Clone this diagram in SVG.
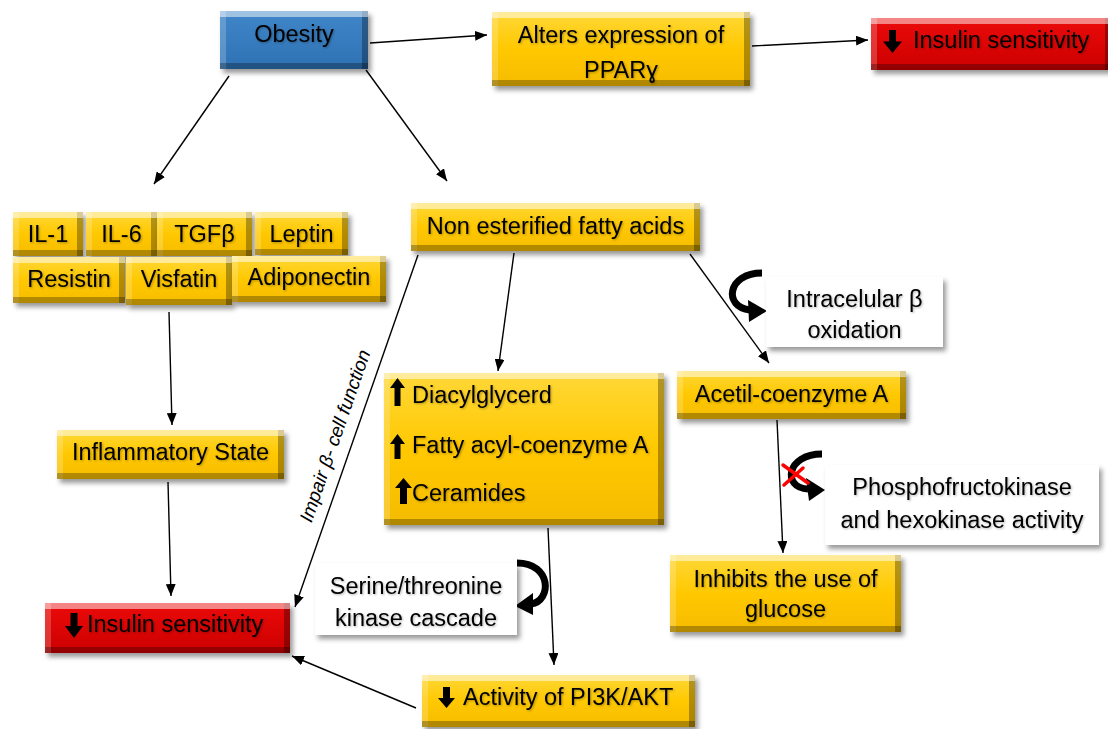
<svg xmlns="http://www.w3.org/2000/svg" width="1108" height="729" viewBox="0 0 1108 729">
<defs>
<style>
.t{font-family:"Liberation Sans",Arial,sans-serif;font-size:23.5px;fill:#000;filter:url(#ts)}
.c{text-anchor:middle}
.ln{stroke:#000;stroke-width:1.4;fill:none;marker-end:url(#ah)}
.cur{stroke:#000;stroke-width:7;fill:none;stroke-linecap:butt}
.hd{fill:#000}
.wb{fill:#fff;filter:url(#sh)}
.y{fill:url(#gy);filter:url(#bev)}
.b{fill:url(#gb);filter:url(#bev)}
.r{fill:url(#gr);filter:url(#bev)}
.ic{fill:#000}
.it{font-family:"Liberation Sans",Arial,sans-serif;font-size:19px;font-style:italic;fill:#000}
</style>
<linearGradient id="gy" x1="0" y1="0" x2="0" y2="1"><stop offset="0" stop-color="#ffd838"/><stop offset="0.5" stop-color="#ffc800"/><stop offset="1" stop-color="#f5bc00"/></linearGradient>
<linearGradient id="gb" x1="0" y1="0" x2="0" y2="1"><stop offset="0" stop-color="#4086c8"/><stop offset="1" stop-color="#2e72b4"/></linearGradient>
<linearGradient id="gr" x1="0" y1="0" x2="0" y2="1"><stop offset="0" stop-color="#ec0a0a"/><stop offset="1" stop-color="#cc0000"/></linearGradient>
<marker id="ah" viewBox="0 0 12 10" refX="12" refY="5" markerWidth="12" markerHeight="10" markerUnits="userSpaceOnUse" orient="auto"><path d="M0 0 L12 5 L0 10 z" fill="#000"/></marker>
<filter id="bev" x="-10%" y="-20%" width="130%" height="160%" color-interpolation-filters="sRGB">
<feGaussianBlur in="SourceAlpha" stdDeviation="2.5"/>
<feOffset dx="3" dy="3.5" result="bl"/>
<feFlood flood-color="#000" flood-opacity="0.4"/>
<feComposite in2="bl" operator="in" result="shadow"/>
<feOffset in="SourceAlpha" dy="6" result="o1"/>
<feComposite in="SourceAlpha" in2="o1" operator="out" result="top"/>
<feOffset in="SourceAlpha" dy="-6" result="o2"/>
<feComposite in="SourceAlpha" in2="o2" operator="out" result="bot"/>
<feOffset in="SourceAlpha" dx="6" result="o3"/>
<feComposite in="SourceAlpha" in2="o3" operator="out" result="left"/>
<feOffset in="SourceAlpha" dx="-6" result="o4"/>
<feComposite in="SourceAlpha" in2="o4" operator="out" result="right"/>
<feFlood flood-color="#fff" flood-opacity="0.2"/><feComposite in2="left" operator="in" result="leftC"/>
<feFlood flood-color="#000" flood-opacity="0.3"/><feComposite in2="right" operator="in" result="rightC"/>
<feFlood flood-color="#fff" flood-opacity="0.5"/><feComposite in2="top" operator="in" result="topC"/>
<feFlood flood-color="#000" flood-opacity="0.28"/><feComposite in2="bot" operator="in" result="botC"/>
<feMerge><feMergeNode in="shadow"/><feMergeNode in="SourceGraphic"/><feMergeNode in="leftC"/><feMergeNode in="rightC"/><feMergeNode in="topC"/><feMergeNode in="botC"/></feMerge>
</filter>
<filter id="sh" x="-10%" y="-20%" width="130%" height="160%">
<feGaussianBlur in="SourceAlpha" stdDeviation="2.5"/>
<feOffset dx="3" dy="4" result="bl"/>
<feFlood flood-color="#000" flood-opacity="0.4"/>
<feComposite in2="bl" operator="in" result="shadow"/>
<feMerge><feMergeNode in="shadow"/><feMergeNode in="SourceGraphic"/></feMerge>
</filter>
<filter id="ts" x="-5%" y="-20%" width="115%" height="150%">
<feGaussianBlur in="SourceAlpha" stdDeviation="0.8"/>
<feOffset dx="1" dy="1.2" result="bl"/>
<feFlood flood-color="#000" flood-opacity="0.3"/>
<feComposite in2="bl" operator="in" result="s"/>
<feMerge><feMergeNode in="s"/><feMergeNode in="SourceGraphic"/></feMerge>
</filter>
</defs>
<rect width="1108" height="729" fill="#fff"/>

<g id="connectors">
<line class="ln" x1="370" y1="43" x2="487" y2="35"/>
<line class="ln" x1="752" y1="46" x2="868" y2="40"/>
<line class="ln" x1="229" y1="76" x2="154" y2="184"/>
<line class="ln" x1="366" y1="70" x2="447" y2="181"/>
<line class="ln" x1="169" y1="312" x2="172" y2="425"/>
<line class="ln" x1="168" y1="482" x2="171" y2="596"/>
<line class="ln" x1="514" y1="253" x2="498" y2="371"/>
<line class="ln" x1="690" y1="254" x2="769" y2="363"/>
<line class="ln" x1="418" y1="255" x2="295" y2="607"/>
<line class="ln" x1="548" y1="528" x2="554" y2="665"/>
<line class="ln" x1="777" y1="420" x2="783" y2="553"/>
<line class="ln" x1="416" y1="708" x2="292" y2="656"/>
<text class="it" transform="translate(341 438) rotate(-70.9)" text-anchor="middle">Impair β- cell function</text>
<path class="cur" d="M762 273 C727 273 723 307 750 310"/>
<polygon class="hd" points="748,300 767,311 749,322"/>
<path class="cur" d="M822 454 C786 454 782 488 808 489"/>
<polygon class="hd" points="806,478 825,490 809,501"/>
<path class="cur" d="M517 563 C552 563 552 601 531 604"/>
<polygon class="hd" points="533,593 515,606 533,615"/>
<g stroke="#ff0000" stroke-width="3.5" stroke-linecap="round"><line x1="783" y1="465" x2="808" y2="483"/><line x1="784" y1="485" x2="803" y2="468"/></g>
</g>

<g id="obesity"><rect class="b" x="220" y="11" width="148" height="58"/><text class="t c" x="294" y="42">Obesity</text></g>
<g id="pparg"><rect class="y" x="492" y="12" width="258" height="74"/><text class="t c" x="621" y="43">Alters expression of</text><text class="t c" x="621" y="78">PPARɣ</text></g>
<g id="insulin-top"><rect class="r" x="871" y="18" width="240" height="52"/><path class="ic" d="M889 30 h7 v11.5 h6 l-9.5 11.5 l-9.5 -11.5 h6 z"/><text class="t" x="913" y="48">Insulin sensitivity</text></g>

<g id="il1"><rect class="y" x="13" y="212" width="70" height="44"/><text class="t c" x="48" y="242">IL-1</text></g>
<g id="il6"><rect class="y" x="86" y="212" width="71" height="44"/><text class="t c" x="121.5" y="242">IL-6</text></g>
<g id="tgfb"><rect class="y" x="157" y="212" width="95" height="44"/><text class="t c" x="204.5" y="242">TGFβ</text></g>
<g id="leptin"><rect class="y" x="255" y="212" width="93" height="43"/><text class="t c" x="301.5" y="242">Leptin</text></g>
<g id="resistin"><rect class="y" x="13" y="257" width="112" height="46"/><text class="t c" x="69" y="287">Resistin</text></g>
<g id="visfatin"><rect class="y" x="126" y="257" width="106" height="48"/><text class="t c" x="179" y="287">Visfatin</text></g>
<g id="adiponectin"><rect class="y" x="232" y="256" width="154" height="46"/><text class="t c" x="309" y="285">Adiponectin</text></g>

<g id="nefa"><rect class="y" x="411" y="203" width="289" height="48"/><text class="t c" x="555.5" y="234">Non esterified fatty acids</text></g>
<g id="lipids"><rect class="y" x="384" y="373" width="280" height="152"/>
<path class="ic" d="M397.5 378 l7.5 10 h-4.5 v18 h-6 v-18 h-4.5 z"/>
<path class="ic" d="M397.5 434 l7.5 10 h-4.5 v15 h-6 v-15 h-4.5 z"/>
<path class="ic" d="M403.5 478 l8.5 10 h-5 v16 h-7 v-16 h-5 z"/>
<text class="t" x="412" y="403">Diacylglycerd</text><text class="t" x="412" y="453">Fatty acyl-coenzyme A</text><text class="t" x="412" y="501">Ceramides</text></g>
<g id="beta-ox"><rect class="wb" x="766" y="277" width="177" height="70"/><text class="t c" x="854.5" y="307">Intracelular β</text><text class="t c" x="854.5" y="338">oxidation</text></g>
<g id="acetil"><rect class="y" x="677" y="371" width="229" height="48"/><text class="t c" x="791.5" y="402">Acetil-coenzyme A</text></g>
<g id="inflammatory"><rect class="y" x="57" y="430" width="227" height="49"/><text class="t c" x="170.5" y="460">Inflammatory State</text></g>
<g id="pfk"><rect class="wb" x="825" y="465" width="274" height="80"/><text class="t c" x="962" y="495">Phosphofructokinase</text><text class="t c" x="962" y="528">and hexokinase activity</text></g>
<g id="glucose"><rect class="y" x="670" y="555" width="231" height="77"/><text class="t c" x="785.5" y="587">Inhibits the use of</text><text class="t c" x="785.5" y="617">glucose</text></g>
<g id="serine"><rect class="wb" x="315" y="563" width="202" height="72"/><text class="t c" x="416" y="594">Serine/threonine</text><text class="t c" x="416" y="626">kinase cascade</text></g>
<g id="insulin-bottom"><rect class="r" x="45" y="603" width="245" height="50"/><path class="ic" d="M70.5 613 h7 v13 h5.5 l-9 12 l-9 -12 h5.5 z"/><text class="t" x="87" y="632">Insulin sensitivity</text></g>
<g id="pi3k"><rect class="y" x="422" y="675" width="273" height="52"/><path class="ic" d="M443 687 h7 v11 h5 l-8.5 10 l-8.5 -10 h5 z"/><text class="t" x="463" y="705">Activity of PI3K/AKT</text></g>
</svg>
